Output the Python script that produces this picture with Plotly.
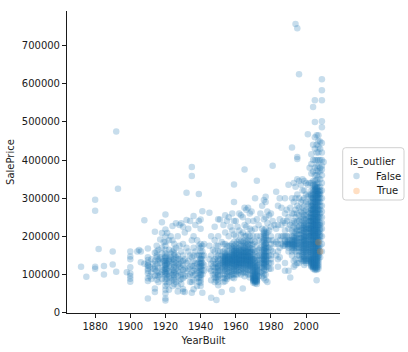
import plotly.graph_objects as go

# ---- data (SalePrice in thousands, grouped by YearBuilt) ----
years_early = [1872, 1875, 1880, 1882, 1885, 1890, 1892, 1893, 1898, 1900, 1904, 1905, 1906, 1908]
prices_early = [[120], [94], [296, 267, 120, 115], [167], [122, 100], [160, 126], [475, 107], [325], [106],
                [160, 147, 140, 119, 103, 96, 89, 81], [160], [164], [132, 160], [242, 128]]

years_1910s = [1910, 1911, 1912, 1913, 1914, 1915, 1916, 1917, 1918, 1919]
prices_1910s = [[168, 138, 131, 122, 115, 103, 83, 37, 125, 110, 145, 90], [120, 95], [140, 105, 88], [115, 128],
                [212, 157, 135, 113, 96, 63, 54, 120], [175, 145, 128, 110, 98, 86, 150, 160],
                [135, 118, 105, 95, 140, 165, 80], [192, 130, 100, 145], [237, 209, 170, 140, 120, 105, 88, 155],
                [185, 112, 135]]

years_1920s_30s = [1920, 1921, 1922, 1923, 1924, 1925, 1926, 1927, 1928, 1929,
                   1930, 1931, 1932, 1933, 1934, 1935, 1936, 1937, 1938, 1939]
prices_1920s_30s = [[257, 218, 200, 185, 175, 165, 155, 148, 142, 136, 130, 125, 120, 115, 110, 105, 100, 95, 88, 80, 70, 60,
                     50, 37, 32, 105, 115, 125, 135, 145],
                    [209, 150, 130, 115, 100, 90, 75, 128], [190, 165, 140, 122, 108, 95, 80, 60, 135],
                    [200, 155, 137, 120, 105, 90, 145], [227, 190, 160, 140, 128, 112, 100, 85, 70],
                    [180, 155, 140, 132, 125, 118, 110, 105, 98, 92, 85, 75, 150, 165],
                    [234, 170, 130, 115, 100, 80, 145], [200, 150, 125, 110, 95, 70, 55, 140],
                    [230, 175, 140, 120, 105, 85, 128], [234, 160, 135, 118, 100, 88, 75],
                    [225, 180, 150, 135, 125, 112, 100, 90, 62, 55], [210, 140, 115, 54, 95],
                    [314, 243, 170, 130, 110], [220, 160, 135, 115, 95], [240, 150, 120, 100, 80],
                    [382, 358, 190, 145, 122, 105, 52, 80], [253, 200, 170, 150, 135, 122, 110, 98, 85, 61],
                    [230, 160, 130, 115, 100], [190, 150, 128, 110, 90, 70],
                    [311, 240, 175, 150, 132, 118, 105, 92, 80]]

years_1940s_50s = [1940, 1941, 1942, 1945, 1946, 1947, 1948, 1949,
                   1950, 1951, 1952, 1953, 1954, 1955, 1956, 1957, 1958, 1959]
prices_1940s_50s = [[244, 220, 180, 170, 160, 150, 142, 135, 128, 122, 115, 110, 105, 98, 92, 85, 78, 70, 100, 120, 130, 140],
                    [266, 175, 160, 150, 140, 130, 122, 112, 100, 52], [180, 150, 125, 110], [262, 175, 140, 115],
                    [200, 150, 128, 110, 85, 39], [165, 135, 120, 100],
                    [225, 190, 160, 140, 128, 118, 110, 100, 92, 80], [175, 145, 128, 118, 105, 92, 33, 85],
                    [245, 200, 175, 160, 150, 142, 135, 128, 122, 118, 112, 108, 100, 95, 88, 80, 72],
                    [244, 160, 140, 125, 110, 98], [185, 150, 130, 115, 54],
                    [230, 180, 160, 148, 140, 132, 125, 118, 110, 100, 90, 80, 128, 135, 145],
                    [255, 210, 180, 165, 155, 148, 142, 136, 130, 125, 120, 115, 110, 100, 90, 82, 132, 138, 145, 150],
                    [240, 175, 160, 150, 140, 130, 122, 115, 105, 95, 88, 128, 135, 145],
                    [250, 200, 175, 160, 150, 145, 138, 132, 126, 120, 112, 105, 95, 130, 140, 148],
                    [225, 175, 155, 140, 130, 118, 108, 98, 125, 135, 145],
                    [260, 215, 180, 170, 160, 152, 145, 140, 135, 128, 122, 115, 108, 100, 92, 60, 130, 138, 150, 165],
                    [336, 290, 240, 205, 185, 175, 168, 160, 155, 150, 145, 140, 135, 130, 125, 120, 115, 110, 100, 90,
                     138, 148, 152, 162]]

years_1960s_70s = [1960, 1961, 1962, 1963, 1964, 1965, 1966, 1967, 1968, 1969,
                   1970, 1971, 1972, 1973, 1974, 1975, 1976, 1977, 1978, 1979]
prices_1960s_70s = [[240, 200, 180, 170, 162, 155, 148, 142, 138, 132, 128, 122, 115, 108, 100, 125, 135, 145, 155, 165],
                    [225, 185, 170, 160, 150, 145, 138, 132, 125, 118, 110, 100, 128, 140, 155],
                    [260, 215, 190, 180, 170, 162, 155, 150, 145, 140, 136, 130, 125, 120, 112, 105, 130, 142, 152, 165],
                    [255, 205, 188, 175, 165, 158, 150, 145, 140, 135, 130, 124, 118, 110, 100, 128, 138, 148, 160],
                    [250, 210, 185, 175, 165, 158, 150, 143, 137, 130, 122, 115, 105, 63, 128, 140, 150, 160],
                    [375, 275, 230, 200, 190, 182, 175, 168, 160, 155, 150, 145, 140, 135, 130, 125, 120, 112, 105, 95,
                     138, 148, 158, 170],
                    [270, 225, 200, 185, 175, 165, 158, 150, 145, 140, 135, 130, 122, 115, 105, 128, 138, 148, 160],
                    [275, 240, 205, 190, 180, 172, 165, 158, 150, 145, 140, 135, 128, 120, 112, 100, 125, 138, 148, 160],
                    [260, 220, 200, 188, 178, 170, 162, 155, 148, 142, 138, 132, 128, 122, 116, 110, 100, 92, 125, 135, 145, 158],
                    [265, 215, 190, 178, 168, 158, 150, 142, 135, 128, 120, 110, 125, 138, 145, 160],
                    [240, 200, 180, 165, 152, 140, 130, 122, 115, 108, 100, 95, 90, 86, 82, 78, 140, 125, 84, 88, 92, 97, 105, 112],
                    [300, 220, 185, 160, 145, 135, 125, 115, 105, 98, 92, 88, 84, 80, 76, 82, 86, 90, 95, 100, 110, 120, 130],
                    [346, 245, 200, 175, 160, 148, 138, 130, 122, 115, 108, 100, 95, 88, 84, 80, 75, 82, 86, 92, 98, 105, 112, 120],
                    [230, 190, 165, 150, 138, 125, 110, 95], [260, 200, 170, 150, 135, 120, 105],
                    [280, 220, 185, 165, 150, 140, 130, 118, 105, 95],
                    [295, 245, 215, 205, 195, 185, 178, 170, 162, 155, 150, 145, 140, 135, 130, 125, 120, 115, 110, 100, 90,
                     128, 138, 148, 158, 165, 175, 190, 200, 210],
                    [304, 290, 250, 220, 210, 200, 190, 182, 175, 168, 160, 155, 148, 142, 137, 132, 126, 120, 112, 100, 85,
                     128, 140, 150, 160, 170, 180, 195, 205],
                    [265, 235, 210, 190, 172, 160, 148, 135, 120, 80], [255, 215, 190, 170, 150, 130, 115]]

years_1980s_90s = [1980, 1981, 1982, 1983, 1984, 1985, 1986, 1987, 1988, 1989,
                   1990, 1991, 1992, 1993, 1994, 1995, 1996, 1997, 1998, 1999]
prices_1980s_90s = [[260, 225, 200, 180, 165, 150, 140, 130, 115], [385, 240, 190, 160], [230, 180],
                    [317, 220, 185, 150], [280, 230, 200, 180, 160, 140, 120], [300, 245, 190, 170, 145],
                    [275, 230, 200, 180], [240, 200, 175], [300, 260, 235, 215, 200, 190, 185, 180, 175, 130, 110],
                    [270, 240, 200, 180, 185],
                    [335, 250, 220, 200, 190, 185, 180, 178, 175, 170, 160, 110], [275, 230, 190, 180, 92],
                    [433, 300, 260, 235, 215, 200, 190, 185, 180, 175, 170, 160, 150],
                    [340, 290, 260, 240, 225, 210, 200, 195, 190, 185, 180, 178, 175, 170, 165, 135, 120],
                    [757, 330, 300, 270, 250, 235, 220, 210, 200, 195, 190, 185, 180, 175, 170, 160, 140, 125],
                    [746, 408, 403, 350, 310, 280, 260, 240, 225, 215, 205, 195, 188, 180, 170, 150, 130],
                    [625, 345, 300, 275, 255, 240, 225, 215, 205, 195, 185, 178, 170, 160, 150, 130],
                    [335, 290, 265, 245, 230, 215, 205, 195, 185, 178, 170, 160, 140],
                    [350, 320, 295, 275, 260, 250, 240, 230, 222, 215, 208, 200, 195, 190, 185, 180, 175, 170, 165, 160, 155,
                     150, 145, 140, 135],
                    [345, 320, 300, 280, 265, 255, 245, 235, 228, 220, 212, 205, 198, 192, 186, 180, 175, 170, 165, 158, 150,
                     145, 140, 135, 125, 190, 200, 215, 230]]

years_2000s = [2000, 2001, 2002, 2003, 2004, 2005, 2006, 2007, 2008, 2009, 2010]
prices_2000s = [[340, 310, 290, 270, 255, 245, 235, 225, 218, 210, 202, 195, 188, 182, 176, 170, 165, 160, 155, 150, 140,
                 135, 130, 180, 200, 220],
                [468, 335, 305, 285, 265, 250, 240, 230, 220, 210, 200, 192, 185, 178, 170, 165, 158, 150, 140, 135],
                [380, 340, 310, 290, 275, 260, 250, 240, 230, 222, 215, 208, 200, 192, 185, 178, 170, 165, 160, 150, 145,
                 140, 135, 180, 200, 220, 240],
                [415, 390, 365, 340, 320, 305, 290, 280, 270, 262, 255, 248, 240, 233, 227, 220, 214, 208, 202, 196, 190,
                 185, 180, 175, 170, 165, 160, 155, 150, 145, 140, 138, 135, 132, 130, 128, 125, 122, 120, 200, 210, 230,
                 250, 270, 300, 215, 225, 240, 260, 280, 310],
                [539, 440, 400, 370, 345, 325, 310, 300, 290, 280, 272, 265, 258, 250, 244, 238, 232, 226, 220, 214, 208,
                 202, 196, 190, 185, 180, 175, 170, 165, 160, 155, 150, 145, 142, 138, 135, 132, 130, 128, 125, 122, 120,
                 118, 115, 190, 200, 215, 230, 245, 260, 275, 295, 315, 335, 140, 160, 180, 200, 210, 225, 240, 250, 270,
                 285, 300],
                [557, 500, 460, 430, 400, 380, 360, 345, 330, 320, 312, 305, 298, 290, 283, 276, 270, 263, 257, 250, 244,
                 238, 232, 226, 220, 215, 210, 205, 200, 195, 190, 185, 180, 175, 170, 165, 160, 155, 150, 146, 142, 138,
                 135, 132, 130, 128, 125, 122, 120, 118, 115, 112, 200, 210, 220, 230, 240, 250, 260, 270, 280, 300, 320,
                 325, 140, 160, 180, 200, 215, 230, 245, 260, 275, 290, 310, 330, 335],
                [465, 440, 420, 400, 385, 372, 360, 348, 338, 328, 320, 315, 310, 305, 300, 295, 290, 285, 280, 275, 270,
                 265, 260, 255, 250, 245, 240, 235, 230, 225, 220, 215, 210, 205, 200, 195, 190, 185, 180, 175, 170, 165,
                 160, 155, 150, 146, 142, 138, 135, 132, 130, 127, 124, 121, 118, 115, 112, 85, 310, 315, 320, 260, 240,
                 220, 200, 180, 160, 140, 155, 170, 185, 200, 215, 230, 245, 260, 275, 290, 305, 325, 330],
                [465, 450, 435, 420, 400, 385, 370, 355, 340, 328, 318, 310, 302, 295, 288, 280, 272, 265, 258, 250, 243,
                 236, 230, 223, 216, 210, 204, 198, 192, 186, 180, 175, 170, 165, 160, 155, 150, 145, 140, 135, 130, 125,
                 120, 115, 320, 312, 300, 150, 170, 190, 210, 230, 250, 270, 290, 310],
                [449, 430, 400, 380, 370, 350, 330, 310, 290, 270, 250, 235, 220, 205, 190, 175, 160, 145, 200, 215, 230,
                 260, 280, 300, 315, 320],
                [612, 583, 557, 502, 486, 445, 420, 400, 385, 375, 360, 340, 320, 300, 280, 265, 250, 235, 220, 200, 180, 160],
                [395]]

outlier_years = [2007, 2008]
outlier_prices = [184.75, 160]

# ---- flatten groups ----
x_false, y_false = [], []
for yrs, prs in [(years_early, prices_early), (years_1910s, prices_1910s),
                 (years_1920s_30s, prices_1920s_30s), (years_1940s_50s, prices_1940s_50s),
                 (years_1960s_70s, prices_1960s_70s), (years_1980s_90s, prices_1980s_90s),
                 (years_2000s, prices_2000s)]:
    for yr, group in zip(yrs, prs):
        for p in group:
            x_false.append(yr)
            y_false.append(p * 1000)
y_true = [p * 1000 for p in outlier_prices]

BLUE, ORANGE, ALPHA, MSIZE = "#1f77b4", "#ff7f0e", 0.25, 6.5
FONT = "DejaVu Sans"
TXT = "#1a1a1a"

# plot area in pixels (figure 408x352)
L, R, T, B = 67, 68, 11, 39
PW, PH = 408 - L - R, 352 - T - B


def px(xp):
    return (xp - L) / PW


def py(yp):
    return (352 - B - yp) / PH


fig = go.Figure()
fig.add_trace(go.Scatter(x=x_false, y=y_false, mode="markers", name="False", showlegend=False,
                         marker=dict(color=BLUE, size=MSIZE, opacity=ALPHA, line=dict(width=0))))
fig.add_trace(go.Scatter(x=outlier_years, y=y_true, mode="markers", name="True", showlegend=False,
                         marker=dict(color=ORANGE, size=MSIZE, opacity=ALPHA, line=dict(width=0))))

# ---- legend (seaborn style box, drawn at right of the axes) ----
bx0, bx1, by0, by1, rr = 342.7, 404, 147.7, 200, 3
kx, ky = rr / PW, rr / PH
path = (f"M {px(bx0)+kx},{py(by0)} L {px(bx1)-kx},{py(by0)} Q {px(bx1)},{py(by0)} {px(bx1)},{py(by0)-ky} "
        f"L {px(bx1)},{py(by1)+ky} Q {px(bx1)},{py(by1)} {px(bx1)-kx},{py(by1)} "
        f"L {px(bx0)+kx},{py(by1)} Q {px(bx0)},{py(by1)} {px(bx0)},{py(by1)+ky} "
        f"L {px(bx0)},{py(by0)-ky} Q {px(bx0)},{py(by0)} {px(bx0)+kx},{py(by0)} Z")
shapes = [dict(type="path", xref="paper", yref="paper", path=path,
               line=dict(color="#d0d0d0", width=1), fillcolor="rgba(255,255,255,0.8)", layer="above")]
legend_rows = [("False", BLUE, 176), ("True", ORANGE, 191)]
annotations = [dict(text="is_outlier", x=px(373), y=py(161.5), xref="paper", yref="paper",
                    xanchor="center", yanchor="middle", showarrow=False, font=dict(size=10, color=TXT))]
for label, col, yrow in legend_rows:
    shapes.append(dict(type="circle", xref="paper", yref="paper", xsizemode="pixel", ysizemode="pixel",
                       xanchor=px(356.5), yanchor=py(yrow), x0=-MSIZE / 2, x1=MSIZE / 2, y0=-MSIZE / 2, y1=MSIZE / 2,
                       fillcolor=col, opacity=ALPHA, line=dict(width=0), layer="above"))
    annotations.append(dict(text=label, x=px(374), y=py(yrow), xref="paper", yref="paper",
                            xanchor="left", yanchor="middle", showarrow=False, font=dict(size=10, color=TXT)))

yt = [0, 100000, 200000, 300000, 400000, 500000, 600000, 700000]
fig.update_layout(
    width=408, height=352,
    margin=dict(l=L, r=R, t=T, b=B, autoexpand=False),
    paper_bgcolor="white", plot_bgcolor="white",
    font=dict(family=FONT, size=10, color=TXT),
    showlegend=False,
    shapes=shapes, annotations=annotations,
    xaxis=dict(range=[1864, 2019.3], tickvals=[1880, 1900, 1920, 1940, 1960, 1980, 2000],
               showline=True, linecolor=TXT, linewidth=1, ticks="outside", ticklen=4,
               tickwidth=1, tickcolor=TXT, showgrid=False, zeroline=False,
               tickfont=dict(size=10), title=dict(text="YearBuilt", standoff=5, font=dict(size=10))),
    yaxis=dict(range=[-1100, 791000], tickvals=yt, ticktext=[str(v) for v in yt],
               showline=True, linecolor=TXT, linewidth=1, ticks="outside", ticklen=4,
               tickwidth=1, tickcolor=TXT, showgrid=False, zeroline=False, ticklabelstandoff=0,
               tickfont=dict(size=10), title=dict(text="SalePrice", standoff=5, font=dict(size=10))),
)
fig.write_html("out.html")
